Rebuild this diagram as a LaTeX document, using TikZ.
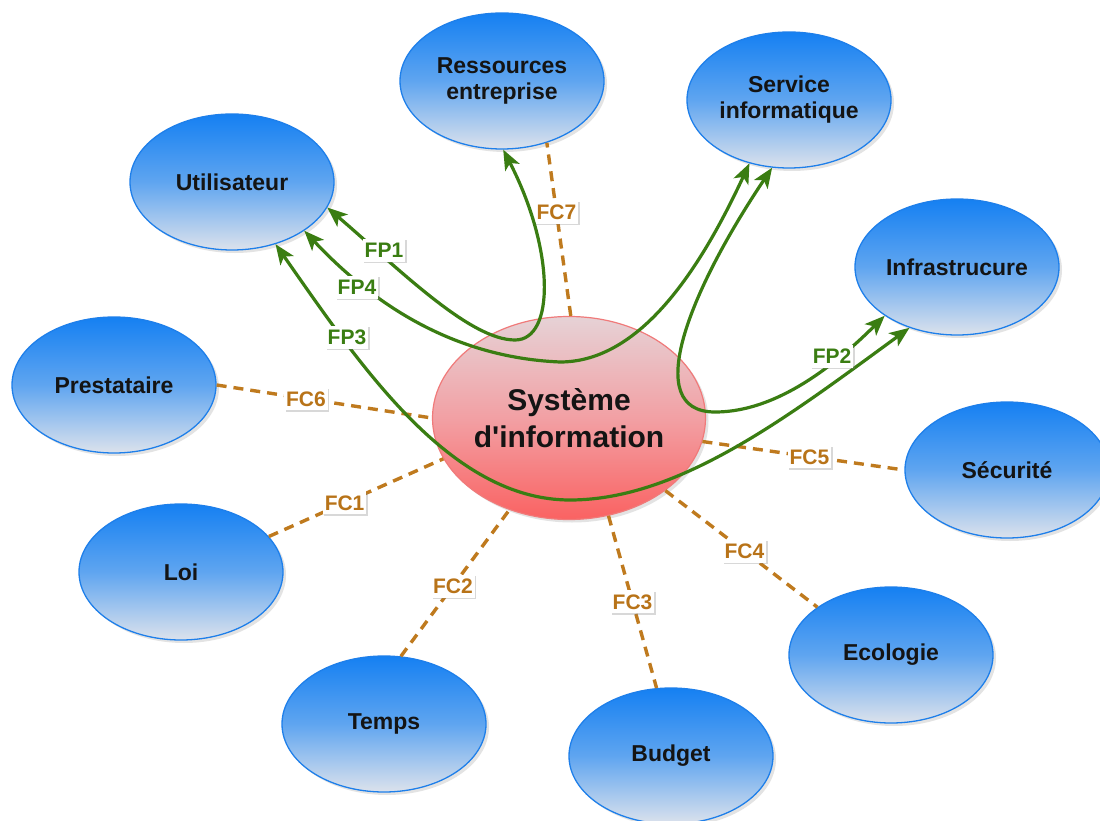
\documentclass[tikz,border=0pt]{standalone}
\usepackage{fontspec}
\setmainfont{Liberation Sans}[Ligatures=TeXOff]
\usetikzlibrary{shapes.geometric,arrows.meta,shadows}

\definecolor{ptop}{HTML}{1580F2}
\definecolor{pmid}{HTML}{5FA5F0}
\definecolor{pbot}{HTML}{DCE2EC}
\definecolor{pborder}{HTML}{1E7FEA}
\definecolor{ctop}{HTML}{E6D2D6}
\definecolor{cmid}{HTML}{F2A0A4}
\definecolor{cbot}{HTML}{FA6262}
\definecolor{cborder}{HTML}{F07A7A}
\definecolor{fpgreen}{HTML}{3A7D12}
\definecolor{fcorange}{HTML}{BF7A1E}
\definecolor{fctext}{HTML}{B87318}

\tikzset{
  periph/.style={ellipse, draw=pborder, line width=1.3pt,
    top color=ptop, bottom color=pbot, middle color=pmid,
    minimum width=204pt, minimum height=136pt, inner sep=0pt,
    align=center, text=black!92,
    font=\fontsize{23}{26}\selectfont\bfseries,
    drop shadow={opacity=0.22, shadow xshift=3pt, shadow yshift=-3pt}},
  central/.style={ellipse, draw=cborder, line width=1.2pt,
    top color=ctop, bottom color=cbot, middle color=cmid,
    minimum width=273pt, minimum height=203pt, inner sep=0pt,
    align=center, text=black!92,
    font=\fontsize{30}{37}\selectfont\bfseries,
    drop shadow={opacity=0.22, shadow xshift=3pt, shadow yshift=-3pt}},
  fcline/.style={draw=fcorange, line width=3.4pt, dash pattern=on 10pt off 7pt},
  fpline/.style={draw=fpgreen, line width=3.2pt,
    arrows={Stealth[length=20pt,width=16pt,inset=5pt]-Stealth[length=20pt,width=16pt,inset=5pt]}},
  tag/.style={fill=white, inner xsep=2pt, inner ysep=4pt,
    text height=15pt, text depth=0pt,
    font=\fontsize{21}{21}\selectfont\bfseries,
    drop shadow={opacity=0.3, shadow xshift=1.5pt, shadow yshift=-1.5pt}},
  fctag/.style={tag, text=fctext},
  fptag/.style={tag, text=fpgreen}
}

\begin{document}
\begin{tikzpicture}[x=1pt,y=-1pt]
  \fill[white] (0,0) rectangle (1100,821);
  \useasboundingbox (0,0) rectangle (1100,821);

  % surrounding actors
  \node[periph] (res) at (502,81)  {Ressources\\entreprise};
  \node[periph] (ser) at (789,100) {Service\\informatique};
  \node[periph] (uti) at (232,182) {Utilisateur};
  \node[periph] (inf) at (957,267) {Infrastrucure};
  \node[periph] (pre) at (114,385) {Prestataire};
  \node[periph] (sec) at (1007,470) {Sécurité};
  \node[periph] (loi) at (181,572) {Loi};
  \node[periph] (tmp) at (384,724) {Temps};
  \node[periph] (bud) at (671,756) {Budget};
  \node[periph] (eco) at (891,655) {Ecologie};

  % the system itself
  \node[central] (sys) at (569,418) {Système\\d'information};

  % constraint functions
  \draw[fcline] (sys.89)   -- node[fctag, pos=0.6]  (fc7) {FC7} (res.-54);
  \draw[fcline] (pre.0)    -- node[fctag, pos=0.415] (fc6) {FC6} (sys.180);
  \draw[fcline] (loi.22)   -- node[fctag, pos=0.434] (fc1) {FC1} (sys.-162);
  \draw[fcline] (tmp.76)   -- node[fctag, pos=0.48] (fc2) {FC2} (sys.-123);
  \draw[fcline] (sys.-68)  -- node[fctag, pos=0.5]  (fc3) {FC3} (bud.102);
  \draw[fcline] (sys.-37)  -- node[fctag, pos=0.52] (fc4) {FC4} (eco.147);
  \draw[fcline] (sys.-10)  -- node[fctag, pos=0.53] (fc5) {FC5} (sec.180);

  % principal functions
  \draw[fpline] (uti.-15) .. controls (400,270) and (470,340) .. (515,340)
                          .. controls (555,340) and (555,250) .. (res.-89);
  \draw[fpline] (uti.-34) .. controls (360,290) and (440,357) .. (560,362)
                          .. controls (640,362) and (700,270) .. (ser.-122);
  \draw[fpline] (uti.-55) .. controls (360,365) and (450,500) .. (570,500)
                          .. controls (680,500) and (790,415) .. (inf.-128);
  \draw[fpline] (ser.-104) .. controls (690,290) and (640,412) .. (715,412)
                           .. controls (780,412) and (840,360) .. (inf.-146);

  \node[fptag] (fp1) at (384,250) {FP1};
  \node[fptag] (fp4) at (357,287) {FP4};
  \node[fptag] (fp3) at (347,337) {FP3};
  \node[fptag] (fp2) at (832,356) {FP2};
\end{tikzpicture}
\end{document}
